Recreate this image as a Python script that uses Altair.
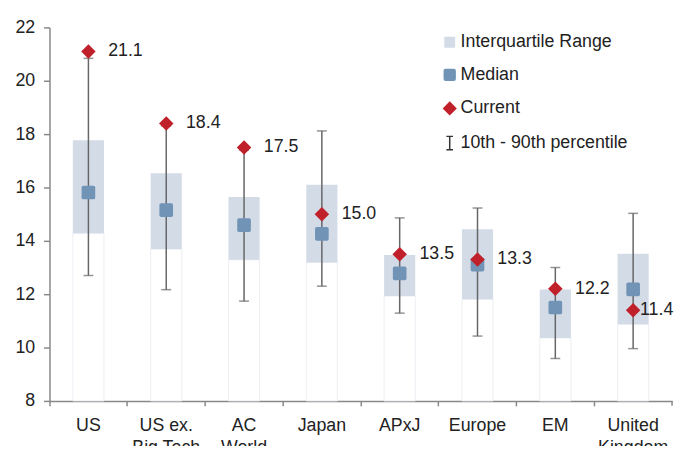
import altair as alt
import pandas as pd

categories = ["US", "US ex.|Big Tech", "AC|World", "Japan", "APxJ", "Europe", "EM", "United|Kingdom"]
p10 = [12.70, 12.17, 11.74, 12.30, 11.29, 10.43, 9.59, 9.96]
p90 = [20.84, 18.30, 17.40, 18.12, 14.86, 15.23, 13.00, 15.03]
q1 = [14.28, 13.69, 13.29, 13.19, 11.93, 11.81, 10.36, 10.87]
q3 = [17.77, 16.53, 15.64, 16.10, 13.47, 14.43, 12.18, 13.52]
median = [15.81, 15.15, 14.59, 14.26, 12.78, 13.11, 11.50, 12.18]
current = [21.1, 18.4, 17.5, 15.0, 13.5, 13.3, 12.2, 11.4]

ROUNDED_SQUARE = "M-0.75,-1H0.75Q1,-1 1,-0.75V0.75Q1,1 0.75,1H-0.75Q-1,1 -1,0.75V-0.75Q-1,-1 -0.75,-1Z"
I_BEAM = "M-0.5,-1H0.5M0,-1V1M-0.5,1H0.5"

legend_items = ["Interquartile Range", "Median", "Current", "10th - 90th percentile"]
legend_fill = ["#d3dbe7", "#7093b6", "#c0202a", "transparent"]
legend_stroke = ["#d3dbe7", "#7093b6", "#c0202a", "#333333"]
legend_shape = ["square", ROUNDED_SQUARE, "diamond", I_BEAM]
legend_size = [90, 180, 110, 256]

df = pd.DataFrame({
    "cat": categories, "p10": p10, "p90": p90, "q1": q1, "q3": q3,
    "median": median, "current": current, "base": [8] * len(categories),
})
df["label"] = [f"{v:.1f}" for v in current]
leg_df = pd.DataFrame({"series": legend_items})

FONT = "Liberation Sans"
FS = 18
W, H = 630, 378

x = alt.X("cat:N", sort=categories, title=None,
          scale=alt.Scale(paddingInner=0, paddingOuter=0),
          axis=alt.Axis(labelExpr="split(datum.label, '|')", labelAngle=0,
                        bandPosition=0, labelFontSize=FS, labelFont=FONT,
                        labelColor="#222222", labelPadding=11, tickSize=5,
                        domainColor="#888888", tickColor="#888888",
                        domainWidth=1.5, tickWidth=1.5,
                        labelLineHeight=22, ticks=True))
yscale = alt.Scale(domain=[8, 22], nice=False, zero=False)
yaxis = alt.Axis(values=list(range(8, 23, 2)), labelFontSize=FS, labelFont=FONT,
                 labelColor="#222222", tickSize=6, domainColor="#888888",
                 tickColor="#888888", domainWidth=1.5, tickWidth=1.5,
                 grid=False, labelPadding=9)

base = alt.Chart(df)

white = base.mark_bar(fill="white", stroke="#eceef3", strokeWidth=1,
                      width=alt.RelativeBandSize(0.4)).encode(
    x=x, y=alt.Y("base:Q", scale=yscale, axis=yaxis, title=None), y2="q1:Q")

iqr = base.mark_bar(color="#d3dbe7", width=alt.RelativeBandSize(0.4)).encode(
    x=x, y=alt.Y("q1:Q", scale=yscale, axis=yaxis, title=None), y2="q3:Q")

whisk = base.mark_rule(color="#666666", strokeWidth=1.5).encode(
    x=x, y=alt.Y("p10:Q", scale=yscale), y2="p90:Q")

cap_lo = base.mark_tick(color="#666666", thickness=1.5, size=10).encode(
    x=x, y=alt.Y("p10:Q", scale=yscale))
cap_hi = base.mark_tick(color="#666666", thickness=1.5, size=10).encode(
    x=x, y=alt.Y("p90:Q", scale=yscale))

med = base.mark_point(shape=ROUNDED_SQUARE, filled=True, color="#7093b6",
                      size=190, opacity=1).encode(
    x=x, y=alt.Y("median:Q", scale=yscale))

cur = base.mark_point(shape="diamond", filled=True, color="#c0202a", size=215,
                      opacity=1).encode(x=x, y=alt.Y("current:Q", scale=yscale))

last_cat = categories[-1]
labels = base.transform_filter(alt.datum.cat != last_cat).mark_text(
    align="left", baseline="middle", dx=20, fontSize=FS,
    font=FONT, color="#222222").encode(
    x=x, y=alt.Y("current:Q", scale=yscale), text="label:N")
labels_last = base.transform_filter(alt.datum.cat == last_cat).mark_text(
    align="left", baseline="middle", dx=7, fontSize=FS,
    font=FONT, color="#222222").encode(
    x=x, y=alt.Y("current:Q", scale=yscale), text="label:N")

# closing tick at the right end of the category axis
end_tick = alt.Chart(pd.DataFrame({"v": [0]})).mark_rule(
    color="#888888", strokeWidth=1.5).encode(
    x=alt.value(W), y=alt.value(H), y2=alt.value(H + 5))

legend_kw = dict(title=None, orient="none", legendX=396, legendY=6)
leg = alt.Chart(leg_df).transform_filter("false").mark_point(
    filled=True, strokeWidth=1.5, opacity=1).encode(
    fill=alt.Fill("series:N", scale=alt.Scale(domain=legend_items, range=legend_fill),
                  legend=alt.Legend(**legend_kw)),
    stroke=alt.Stroke("series:N", scale=alt.Scale(domain=legend_items, range=legend_stroke),
                      legend=alt.Legend(**legend_kw)),
    shape=alt.Shape("series:N", scale=alt.Scale(domain=legend_items, range=legend_shape),
                    legend=alt.Legend(**legend_kw)),
    size=alt.Size("series:N", scale=alt.Scale(domain=legend_items, range=legend_size),
                  legend=alt.Legend(**legend_kw)),
)

chart = alt.layer(white, iqr, whisk, cap_lo, cap_hi, med, cur, labels, labels_last,
                  end_tick, leg).properties(
    width=W, height=H,
    autosize=alt.AutoSizeParams(type="none"),
    padding={"left": 42, "top": 17, "right": 4, "bottom": 43},
).configure_view(stroke=None).configure_legend(
    labelFontSize=FS, labelFont=FONT, labelColor="#222222", rowPadding=15,
    labelOffset=2, symbolStrokeWidth=1.5, labelLimit=400,
)

chart.save("out.html", embed_options={"renderer": "svg", "actions": False})
